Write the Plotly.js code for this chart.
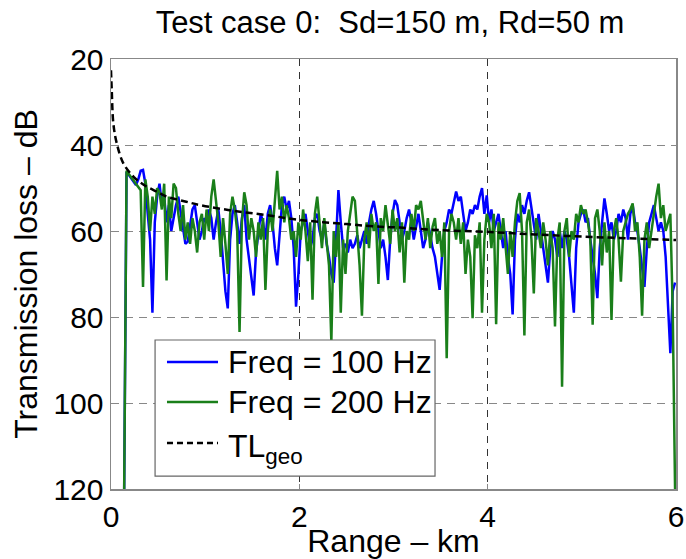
<!DOCTYPE html>
<html>
<head>
<meta charset="utf-8">
<script src="https://cdn.plot.ly/plotly-3.0.1.min.js"></script>
<style>html,body{margin:0;padding:0;background:#fff;}#chart{width:686px;height:559px;}</style>
</head>
<body>
<div id="chart"></div>
<script>
// Range grid of the two frequency series (km)
const rangeStart = 0.14;
const rangeStep = 0.025;

// Transmission loss, 100 Hz (dB)
const tl100 = [
120,46.3,47,47.8,48.6,49.3,48,46,45.8,49,
56,62,79,58,52,49,54,52,58,54,
60,57,54,52,56,60,63,62.5,59,55,
54,58,62,60,57,58,55,57,62,58,
55,60,68,74,78,62,56,54,58,63,
57,54,62,66,70,75,65,60,56,58,
62,56,54,58,64,68,60,54,52,55,
53,57,64,77.6,70,60,58,56,60,64,
62,57,56,60,62,58,63,66,70,72,
62,50.5,58,64,63,65,62,64,63,61,
64,62,60,63,58,55,53,56,60,64,
62,66,71.4,62,56,52.8,54,58,62,60,
57,55,58,62,59,56,60,64,62,58,
61,64,66,70,73.7,66,60,58,55,56,
53,50.8,53,52,56,60,58,55,56,54,
55,52,50,56,51.7,58,55,60,58,56,
60,64,60,66,70,79.4,62,56,58,54,
56,53,51,55,58,62,56,60,64,68,
72,64,60,62,66,60,64,60,62,66,
72,79,64,58,56,55,58,57,62,66,
70,75.6,64,58,52.4,56,60,58,62,60,
56,58,55,57,62,56,54,58,60,64,
68,73,64,58,56,54,57,60,58,60,
66,76,88.4,74,72
];

// Transmission loss, 200 Hz (dB)
const tl200 = [
120,46,46.8,47.6,48.4,49.2,50,50.5,73,48,
52,60,52,56,50,51,55,49,71.5,52,
57,49,50,56,60,54,62,58,63,57,
60,65,58,56,62,55,60,52,48,53,
58,66,57,63,70,56,52,55,60,83.5,
58,51,54,62,57,60,66,58,62,57,
73.7,60,55,60,52,46,55,52,58,54,
57,62,60,66,58,62,55,60,67,58,
76,56,52,58,64,57,62,68,85.8,60,
66,58,79,62,70,60,56,52,53,60,
68,79.7,62,58,64,56,60,58,72.3,57,
60,54,58,63,55,60,57,65,58,72,
60,62,56,60,54,55,53,58,62,57,
64,59,57,63,60,66,58,89.6,60,56,
58,62,57,63,58,70,62,66,80.3,61,
64,58,79,62,56,58,64,56,81.7,58,
62,57,64,70,60,66,58,53,51.2,60,
84.3,58,55,62,74.5,57,60,64,58,62,
68,60,64,82.2,62,58,96.2,60,57,66,
60,62,56,58,54,56,55,58,62,81.8,
57,55,60,68,58,65,60,80.7,60,57,
62,71.8,60,58,56,55,53.6,60,58,66,
79.7,62,58,64,60,55,52,49,57,54,
60,58,56,78,120
];

// Geometric spreading loss TL_geo
const geoRange = [0,0.008,0.025,0.06,0.13,0.24,0.35,0.5,0.59,0.8,0.95,1.3,1.65,2.0,2.5,2.86,3.07,3.5,3.99,4.5,5.0,5.5,6.0];
const geoTL    = [22.6,27.2,35,39.5,44.2,47.4,49.3,51,52,53.2,54,55.3,56.3,57.4,58.4,59,59.2,59.8,60.2,60.8,61.3,61.7,62.1];

const seriesNames = ['Freq = 100 Hz', 'Freq = 200 Hz', 'TL<sub>geo</sub>'];
const seriesColors = ['#0000ff', '#1a7f1a', '#000000'];
const titleText = 'Test case 0:&nbsp; Sd=150 m, Rd=50 m';
const xTitle = 'Range \u2013 km';
const yTitle = 'Transmission loss \u2013 dB';

const rng = tl100.map((_, i) => +(rangeStart + i * rangeStep).toFixed(4));

const FONT = 'Liberation Sans, Arial, Helvetica, sans-serif';
const GEO_DASH = '7px,4px';

const traces = [
  {x: rng, y: tl100, type: 'scatter', mode: 'lines', name: seriesNames[0], showlegend: false,
   line: {color: seriesColors[0], width: 2.5}},
  {x: rng, y: tl200, type: 'scatter', mode: 'lines', name: seriesNames[1], showlegend: false,
   line: {color: seriesColors[1], width: 2.5}},
  {x: geoRange, y: geoTL, type: 'scatter', mode: 'lines', name: seriesNames[2], showlegend: false,
   line: {color: seriesColors[2], width: 2.5, dash: GEO_DASH, shape: 'spline'}}
];

// Legend box (MATLAB style), in paper coordinates
const legBox = {x0: 0.078, x1: 0.5735, y0: 0.030, y1: 0.3465};
const legRows = [0.2953, 0.2023, 0.107];
const legLineX = [0.0991, 0.1894];
const legTextX = 0.2035;

const shapes = [
  {type: 'rect', xref: 'paper', yref: 'paper', x0: legBox.x0, x1: legBox.x1, y0: legBox.y0, y1: legBox.y1,
   fillcolor: '#fff', line: {color: '#666', width: 1.2}, layer: 'above'}
];
const annotations = [];
seriesNames.forEach((nm, k) => {
  shapes.push({type: 'line', xref: 'paper', yref: 'paper', x0: legLineX[0], x1: legLineX[1],
    y0: legRows[k], y1: legRows[k], layer: 'above',
    line: {color: seriesColors[k], width: 2.5, dash: k === 2 ? '6px,4px' : 'solid'}});
  annotations.push({xref: 'paper', yref: 'paper', x: legTextX, y: legRows[k] + (k === 2 ? -0.012 : 0),
    xanchor: 'left', yanchor: 'middle', showarrow: false, text: nm,
    font: {family: FONT, size: 32, color: '#000'}});
});

const layout = {
  width: 686, height: 559,
  margin: {l: 111, r: 10, t: 59, b: 70},
  paper_bgcolor: '#fff', plot_bgcolor: '#fff',
  font: {family: FONT, size: 30, color: '#000'},
  title: {text: titleText, font: {family: FONT, size: 31, color: '#000'},
          x: 0.5685, xanchor: 'center', y: 0.9606, yanchor: 'middle'},
  showlegend: false,
  shapes: shapes,
  annotations: annotations,
  xaxis: {range: [0, 6], dtick: 2, tick0: 0, showgrid: true, gridcolor: '#333',
          griddash: '7px,6px', gridwidth: 1, zeroline: false,
          showline: true, linecolor: '#888', linewidth: 1.5, mirror: true,
          ticks: 'inside', ticklen: 5, tickcolor: '#888',
          tickfont: {family: FONT, size: 30, color: '#000'},
          title: {text: xTitle, font: {family: FONT, size: 32, color: '#000'}, standoff: 2}},
  yaxis: {range: [120, 20], dtick: 20, tick0: 20, showgrid: true, gridcolor: '#888',
          griddash: '8px,6px', gridwidth: 1, zeroline: false,
          showline: true, linecolor: '#888', linewidth: 1.5, mirror: true,
          ticks: 'inside', ticklen: 5, tickcolor: '#888',
          tickfont: {family: FONT, size: 30, color: '#000'},
          title: {text: yTitle, font: {family: FONT, size: 32, color: '#000'}, standoff: 6}}
};

Plotly.newPlot('chart', traces, layout, {displayModeBar: false, staticPlot: true});
</script>
</body>
</html>
